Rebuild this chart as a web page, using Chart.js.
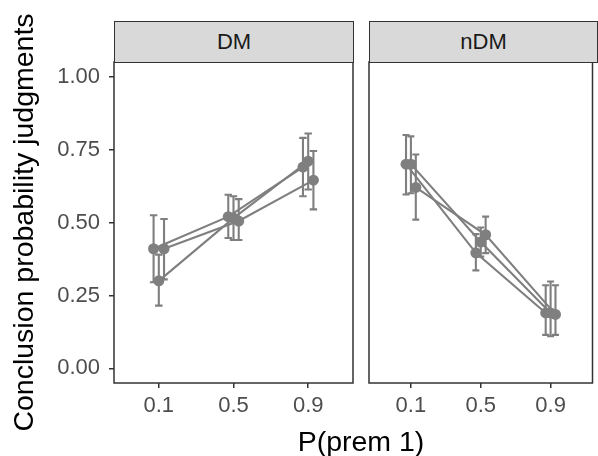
<!DOCTYPE html>
<html lang="en">
<head>
    <meta charset="UTF-8">
    <title>Conclusion probability judgments</title>
    <script src="https://cdn.jsdelivr.net/npm/chart.js"></script>
    <style>
        body { margin: 0; background: #fff; font-family: "Liberation Sans", Arial, sans-serif; }
        #wrap { position: relative; width: 598px; height: 456px; overflow: hidden; }
        canvas { position: absolute; top: 0; }
        .strip {
            position: absolute; top: 21px; height: 42px; box-sizing: border-box;
            background: #d9d9d9; border: 1.5px solid #333;
            font-size: 22px; color: #1a1a1a; text-align: center; line-height: 39px;
        }
        #xtitle {
            position: absolute; top: 427px; left: 211px; width: 300px;
            font-size: 28.5px; line-height: 1; text-align: center; color: #000;
        }
    </style>
</head>
<body>
<div id="wrap">
    <canvas id="left" width="360" height="456" style="left:0"></canvas>
    <canvas id="right" width="238" height="456" style="left:360px"></canvas>
    <div class="strip" id="stripL" style="left:114px; width:240px;"></div>
    <div class="strip" id="stripR" style="left:369px; width:229px;"></div>
    <div id="xtitle">P(prem 1)</div>
</div>
<script>
    // facet + axis labels
    const panels = ['DM', 'nDM'];
    const xLabels = ['0.1', '0.5', '0.9'];
    const yTicks = [0, 0.25, 0.5, 0.75, 1];

    // DM panel: three dodged groups (means and interval ends)
    const dmMeanA = [0.41, 0.52, 0.69];
    const dmLowA  = [0.295, 0.447, 0.59];
    const dmHighA = [0.525, 0.595, 0.79];
    const dmMeanB = [0.30, 0.515, 0.71];
    const dmLowB  = [0.215, 0.44, 0.613];
    const dmHighB = [0.39, 0.59, 0.805];
    const dmMeanC = [0.41, 0.505, 0.645];
    const dmLowC  = [0.305, 0.44, 0.545];
    const dmHighC = [0.512, 0.58, 0.745];

    // nDM panel
    const ndmMeanA = [0.70, 0.396, 0.19];
    const ndmLowA  = [0.596, 0.336, 0.115];
    const ndmHighA = [0.80, 0.46, 0.285];
    const ndmMeanB = [0.70, 0.433, 0.19];
    const ndmLowB  = [0.60, 0.383, 0.11];
    const ndmHighB = [0.795, 0.483, 0.298];
    const ndmMeanC = [0.62, 0.458, 0.185];
    const ndmLowC  = [0.51, 0.395, 0.115];
    const ndmHighC = [0.733, 0.52, 0.285];

    const grey = '#7f7f7f';
    const dark = '#333333';
    const dodge = [-0.07, 0, 0.07];
    const capHalf = 0.05;

    document.getElementById('stripL').textContent = panels[0];
    document.getElementById('stripR').textContent = panels[1];

    Chart.defaults.font.family = '"Liberation Sans", Arial, sans-serif';
    Chart.defaults.color = '#4d4d4d';

    const errorBars = {
        id: 'errorBars',
        beforeDatasetsDraw(chart) {
            const ctx = chart.ctx, xs = chart.scales.x, ys = chart.scales.y;
            ctx.save();
            ctx.strokeStyle = grey;
            ctx.lineWidth = 2.1;
            chart.data.datasets.forEach(ds => {
                ds.data.forEach((p, i) => {
                    const x = xs.getPixelForValue(p.x);
                    const x0 = xs.getPixelForValue(p.x - capHalf);
                    const x1 = xs.getPixelForValue(p.x + capHalf);
                    const yl = ys.getPixelForValue(ds.low[i]);
                    const yh = ys.getPixelForValue(ds.high[i]);
                    ctx.beginPath();
                    ctx.moveTo(x, yl); ctx.lineTo(x, yh);
                    ctx.moveTo(x0, yl); ctx.lineTo(x1, yl);
                    ctx.moveTo(x0, yh); ctx.lineTo(x1, yh);
                    ctx.stroke();
                });
            });
            ctx.restore();
        }
    };

    const panelBorder = {
        id: 'panelBorder',
        afterDraw(chart) {
            const a = chart.chartArea, ctx = chart.ctx;
            ctx.save();
            ctx.strokeStyle = dark;
            ctx.lineWidth = 1.5;
            ctx.strokeRect(a.left, a.top, a.right - a.left, a.bottom - a.top);
            ctx.restore();
        }
    };

    function group(means, low, high, k) {
        return {
            data: means.map((v, i) => ({ x: i + 1 + dodge[k], y: v })),
            low: low,
            high: high,
            borderColor: grey,
            backgroundColor: grey,
            borderWidth: 2.1,
            pointRadius: 5.5,
            pointBorderWidth: 0,
            pointBackgroundColor: grey,
            fill: false
        };
    }

    function makePanel(id, datasets, showY, padding) {
        return new Chart(document.getElementById(id), {
            type: 'line',
            data: { datasets: datasets },
            options: {
                responsive: false,
                animation: false,
                layout: { padding: padding },
                plugins: { legend: { display: false }, tooltip: { enabled: false } },
                scales: {
                    x: {
                        type: 'linear', min: 0.4, max: 3.6,
                        afterBuildTicks: s => { s.ticks = xLabels.map((l, i) => ({ value: i + 1 })); },
                        afterFit: s => { s.height = 73; },
                        ticks: {
                            callback: v => xLabels[v - 1],
                            font: { size: 22 }, color: '#4d4d4d', padding: 5, maxRotation: 0
                        },
                        grid: { drawOnChartArea: false, tickLength: 5, color: dark, lineWidth: 1.5 },
                        border: { display: false }
                    },
                    y: {
                        display: showY, min: -0.05, max: 1.05,
                        afterBuildTicks: s => { s.ticks = yTicks.map(v => ({ value: v })); },
                        afterFit: s => { if (showY) s.width = 114; },
                        ticks: {
                            callback: v => v.toFixed(2),
                            font: { size: 22 }, color: '#4d4d4d', padding: 9
                        },
                        grid: { drawOnChartArea: false, tickLength: 5, color: dark, lineWidth: 1.5 },
                        border: { display: false },
                        title: {
                            display: true, text: 'Conclusion probability judgments',
                            font: { size: 28.5, lineHeight: 1 }, color: '#000', padding: { top: 11 }
                        }
                    }
                }
            },
            plugins: [errorBars, panelBorder]
        });
    }

    makePanel('left', [
        group(dmMeanA, dmLowA, dmHighA, 0),
        group(dmMeanB, dmLowB, dmHighB, 1),
        group(dmMeanC, dmLowC, dmHighC, 2)
    ], true, { left: 0, right: 7, top: 62, bottom: 0 });

    makePanel('right', [
        group(ndmMeanA, ndmLowA, ndmHighA, 0),
        group(ndmMeanB, ndmLowB, ndmHighB, 1),
        group(ndmMeanC, ndmLowC, ndmHighC, 2)
    ], false, { left: 9, right: 1, top: 62, bottom: 0 });
</script>
</body>
</html>
